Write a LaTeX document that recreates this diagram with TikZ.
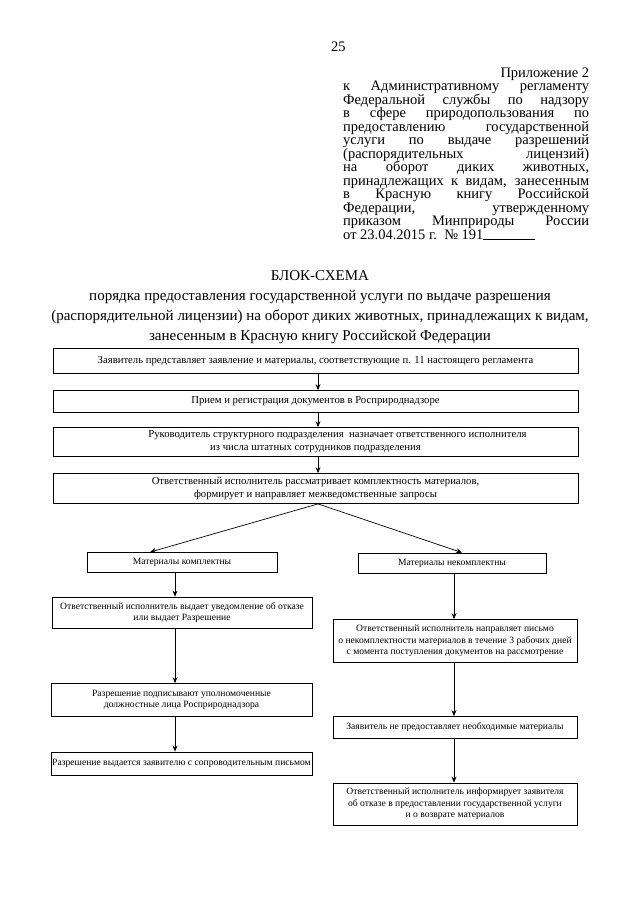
\documentclass[tikz,border=0pt]{standalone}
\usepackage{fontspec}
\setmainfont{Liberation Serif}
\usetikzlibrary{arrows.meta}
\begin{document}
\begin{tikzpicture}[x=1pt,y=-1pt,
  box/.style={draw, line width=0.8pt, inner sep=0pt, align=center,
    font=\fontsize{10.7}{12.8}\selectfont},
  sbox/.style={box, font=\fontsize{9.6}{11.6}\selectfont},
  arr/.style={-{Stealth[length=6pt,width=5pt]}, line width=0.7pt},
  hl/.style={anchor=base west, inner sep=0pt, font=\fontsize{14.5}{13}\selectfont},
  tl/.style={anchor=base, inner sep=0pt, font=\fontsize{15}{19}\selectfont}]
\useasboundingbox (0,0) rectangle (640,905);
\fill[white] (0,0) rectangle (640,905);

% page number
\node[hl] (pg) at (331,51) {25};

% header block
\node[hl] (h1) at (343,77) {\makebox[246pt][r]{Приложение 2}};
\node[hl] (h2) at (343,90.5) {\makebox[246pt][s]{к Административному регламенту}};
\node[hl] (h3) at (343,104) {\makebox[246pt][s]{Федеральной службы по надзору}};
\node[hl] (h4) at (343,117.5) {\makebox[246pt][s]{в сфере природопользования по}};
\node[hl] (h5) at (343,131) {\makebox[246pt][s]{предоставлению государственной}};
\node[hl] (h6) at (343,144.5) {\makebox[246pt][s]{услуги по выдаче разрешений}};
\node[hl] (h7) at (343,158) {\makebox[246pt][s]{(распорядительных лицензий)}};
\node[hl] (h8) at (343,171.5) {\makebox[246pt][s]{на оборот диких животных,}};
\node[hl] (h9) at (343,185) {\makebox[246pt][s]{принадлежащих к видам, занесенным}};
\node[hl] (h10) at (343,198.5) {\makebox[246pt][s]{в Красную книгу Российской}};
\node[hl] (h11) at (343,212) {\makebox[246pt][s]{Федерации, утвержденному}};
\node[hl] (h12) at (343,225.5) {\makebox[246pt][s]{приказом Минприроды России}};
\node[hl] (h13) at (343,239) {от 23.04.2015 г.\ \ № 191\rule[-1pt]{52pt}{0.6pt}};

% title
\node[tl] (t1) at (320,280) {БЛОК-СХЕМА};
\node[tl] (t2) at (320,300.5) {порядка предоставления государственной услуги по выдаче разрешения};
\node[tl] (t3) at (320,320.5) {(распорядительной лицензии) на оборот диких животных, принадлежащих к видам,};
\node[tl] (t4) at (320,340.5) {занесенным в Красную книгу Российской Федерации};

% column coordinates
\coordinate (cx) at (318,0);
\coordinate (lx) at (175,0);
\coordinate (rx) at (454,0);
\coordinate (la) at (150,0);
\coordinate (ra) at (462,0);

% main boxes
\node[box, minimum width=525pt, minimum height=25pt] (b1) at (315.5,361)
  {Заявитель представляет заявление и материалы, соответствующие п. 11 настоящего регламента};
\node[box, minimum width=525pt, minimum height=22pt] (b2) at (315.5,401.5)
  {Прием и регистрация документов в Росприроднадзоре};
\node[box, minimum width=525pt, minimum height=29pt] (b3) at (315.5,442)
  {\hspace*{44pt}Руководитель структурного подразделения\ \ назначает ответственного исполнителя\\из числа штатных сотрудников подразделения};
\node[box, minimum width=525pt, minimum height=30pt] (b4) at (315.5,488.5)
  {Ответственный исполнитель рассматривает комплектность материалов,\\формирует и направляет межведомственные запросы};

% left branch
\node[sbox, minimum width=190pt, minimum height=20pt] (l1) at (182,562.5)
  {Материалы комплектны};
\node[sbox, minimum width=260pt, minimum height=31pt] (l2) at (182,612.5)
  {Ответственный исполнитель выдает уведомление об отказе\\или выдает Разрешение};
\node[sbox, minimum width=261pt, minimum height=33pt] (l3) at (181.5,700)
  {Разрешение подписывают уполномоченные\\должностные лица Росприроднадзора};
\node[sbox, minimum width=261pt, minimum height=23pt] (l4) at (181.5,763.5)
  {Разрешение выдается заявителю с сопроводительным письмом};

% right branch
\node[sbox, minimum width=188pt, minimum height=20pt] (r1) at (452,563)
  {Материалы некомплектны};
\node[sbox, minimum width=244pt, minimum height=43pt] (r2) at (455,641)
  {Ответственный исполнитель направляет письмо\\о некомплектности материалов в течение 3 рабочих дней\\с момента поступления документов на рассмотрение};
\node[sbox, minimum width=244pt, minimum height=22pt] (r3) at (455,727.5)
  {Заявитель не предоставляет необходимые материалы};
\node[sbox, minimum width=244pt, minimum height=42pt] (r4) at (455,804)
  {Ответственный исполнитель информирует заявителя\\об отказе в предоставлении государственной услуги\\и о возврате материалов};

% connectors
\draw[arr] (b1.south -| cx) -- (b2.north -| cx);
\draw[arr] (b2.south -| cx) -- (b3.north -| cx);
\draw[arr] (b3.south -| cx) -- (b4.north -| cx);
\draw[arr] (b4.south -| cx) -- (l1.north -| la);
\draw[arr] (b4.south -| cx) -- (r1.north -| ra);
\draw[arr] (l1.south -| lx) -- (l2.north -| lx);
\draw[arr] (l2.south -| lx) -- (l3.north -| lx);
\draw[arr] (l3.south -| lx) -- (l4.north -| lx);
\draw[arr] (r1.south -| rx) -- (r2.north -| rx);
\draw[arr] (r2.south -| rx) -- (r3.north -| rx);
\draw[arr] (r3.south -| rx) -- (r4.north -| rx);
\end{tikzpicture}
\end{document}
